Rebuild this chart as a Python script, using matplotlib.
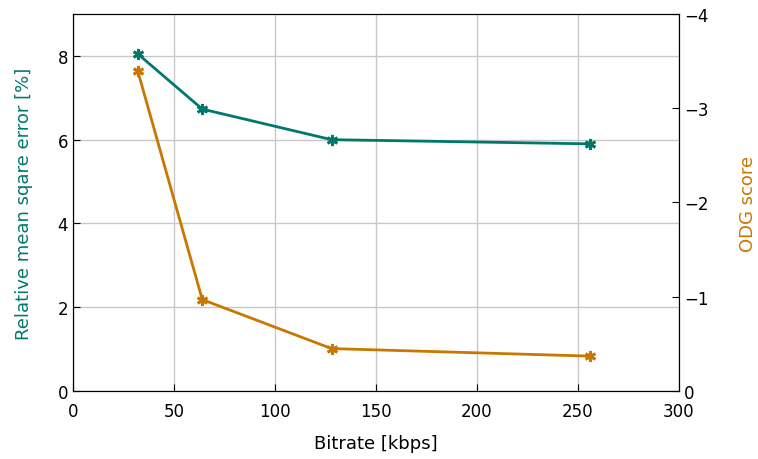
import matplotlib
matplotlib.use("Agg")
import matplotlib.pyplot as plt

bitrate = [32, 64, 128, 256]
rmse = [8.05, 6.73, 6.0, 5.9]
odg = [-3.40, -0.97, -0.45, -0.37]

teal = "#00786b"
orange = "#c87800"

plt.rcParams['font.family'] = ['DejaVu Sans']
plt.rcParams['font.size'] = 12

fig = plt.figure(figsize=(7.58, 4.6), dpi=100)
ax = fig.add_axes([73/758, 68/460, (679-73)/758, (392-15)/460])
ax.plot(bitrate, rmse, color=teal, lw=2, marker=(6, 2, 0), ms=8, mew=2, zorder=3)
ax.set_xlim(0, 300)
ax.set_ylim(0, 9)
ax.set_xticks([0, 50, 100, 150, 200, 250, 300])
ax.set_yticks([0, 2, 4, 6, 8])
ax.grid(True, color="#c8c8c8", lw=1)
ax.set_axisbelow(True)
ax.tick_params(direction="in", length=5, labelsize=12)
ax.tick_params(axis="x", pad=8)
ax.set_xlabel("Bitrate [kbps]", fontsize=13, labelpad=10)
ax.set_ylabel("Relative mean sqare error [%]", color=teal, fontsize=13, labelpad=18)

ax2 = ax.twinx()
ax2.plot(bitrate, odg, color=orange, lw=2, marker=(6, 2, 0), ms=8, mew=2, zorder=3)
ax2.set_ylim(0, -4)
ax2.set_yticks([0, -1, -2, -3, -4])
ax2.set_yticklabels(["0", "\u22121", "\u22122", "\u22123", "\u22124"])
ax2.tick_params(direction="in", length=5, labelsize=12)
ax2.set_ylabel("ODG score", color=orange, fontsize=13, labelpad=22)

fig.savefig("out.png", dpi=100)
